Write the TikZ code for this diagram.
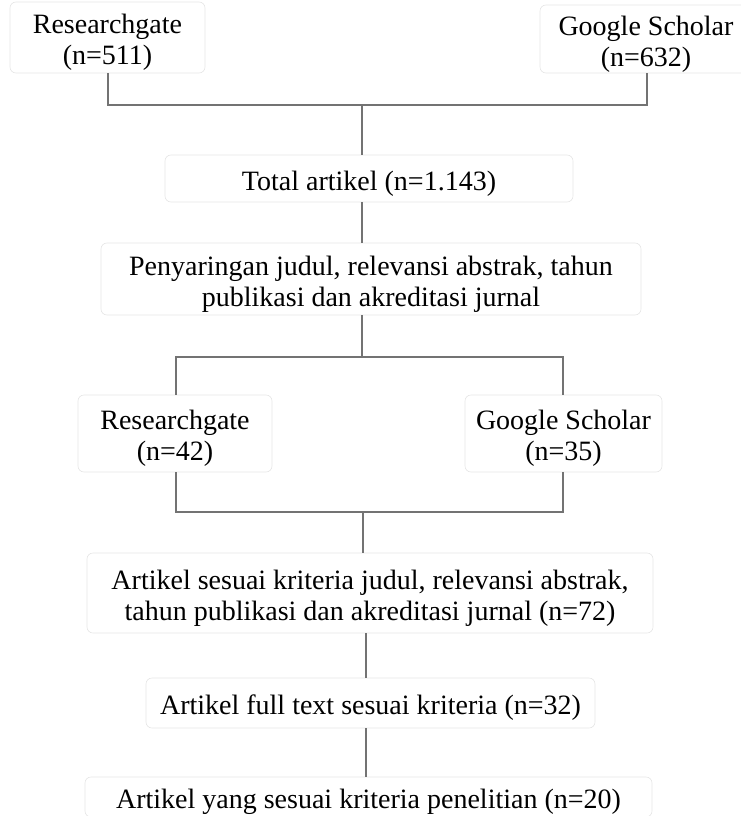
\documentclass[tikz,border=0pt]{standalone}
\usepackage{fontspec}
\setmainfont{Liberation Serif}
\begin{document}
\begin{tikzpicture}[x=1pt,y=-1pt,
  box/.style={draw=black!10, line width=0.6pt, rounded corners=6pt, inner sep=0pt},
  tx/.style={align=center, inner sep=0pt, yshift=-5pt, font=\fontsize{28}{31}\selectfont},
  link/.style={draw=black!55, line width=1.3pt}]
\useasboundingbox (0,0) rectangle (741,816);
\node[box, minimum width=195pt, minimum height=71pt, label={[tx]center:{Researchgate\\(n=511)}}] (rg1) at (107.5,37.5) {};
\node[box, minimum width=212pt, minimum height=68pt, label={[tx]center:{Google Scholar\\(n=632)}}] (gs1) at (646,39) {};
\node[box, minimum width=408pt, minimum height=47pt, label={[tx]center:{Total artikel (n=1.143)}}] (total) at (369,178.5) {};
\node[box, minimum width=540pt, minimum height=72pt, label={[tx]center:{Penyaringan judul, relevansi abstrak, tahun\\publikasi dan akreditasi jurnal}}] (pen) at (371,279) {};
\node[box, minimum width=194pt, minimum height=77pt, label={[tx]center:{Researchgate\\(n=42)}}] (rg2) at (175,433.5) {};
\node[box, minimum width=197pt, minimum height=77pt, label={[tx]center:{Google Scholar\\(n=35)}}] (gs2) at (563.5,433.5) {};
\node[box, minimum width=566pt, minimum height=80pt, label={[tx]center:{Artikel sesuai kriteria judul, relevansi abstrak,\\tahun publikasi dan akreditasi jurnal (n=72)}}] (art) at (370,593) {};
\node[box, minimum width=449pt, minimum height=50pt, label={[tx]center:{Artikel full text sesuai kriteria (n=32)}}] (full) at (370.5,703) {};
\node[box, minimum width=567pt, minimum height=40pt, label={[tx]center:{Artikel yang sesuai kriteria penelitian (n=20)}}] (last) at (368.5,797) {};
% junction coordinates
\coordinate (j1) at (362,105);
\coordinate (j2) at (362,357);
\coordinate (j3) at (363,512);
\coordinate (c1) at (108,0);
\coordinate (c2) at (647,0);
\coordinate (c3) at (176,0);
\coordinate (c4) at (563,0);
\coordinate (c5) at (366,0);
% connectors
\draw[link] (rg1.south -| c1) -- (c1 |- j1) -- (c2 |- j1) -- (gs1.south -| c2);
\draw[link] (j1) -- (total.north -| j1);
\draw[link] (total.south -| j1) -- (pen.north -| j1);
\draw[link] (pen.south -| j2) -- (j2);
\draw[link] (rg2.north -| c3) -- (c3 |- j2) -- (c4 |- j2) -- (gs2.north -| c4);
\draw[link] (rg2.south -| c3) -- (c3 |- j3) -- (c4 |- j3) -- (gs2.south -| c4);
\draw[link] (j3) -- (art.north -| j3);
\draw[link] (art.south -| c5) -- (full.north -| c5);
\draw[link] (full.south -| c5) -- (last.north -| c5);
\end{tikzpicture}
\end{document}
